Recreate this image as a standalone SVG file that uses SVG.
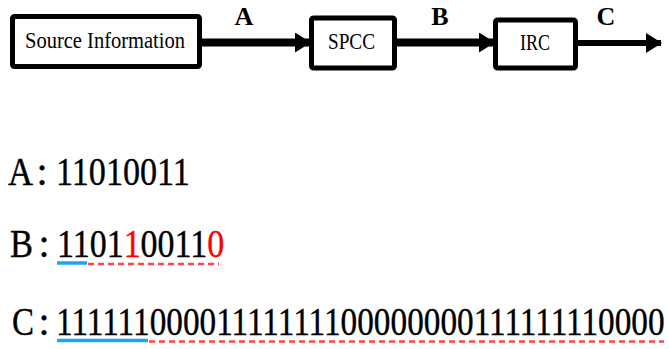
<svg xmlns="http://www.w3.org/2000/svg" width="669" height="349" viewBox="0 0 669 349">
  <style>
    .box { fill: #ffffff; stroke: #000000; stroke-width: 5; }
    .boxtxt { font-family: "Liberation Serif", "Times New Roman", serif; font-size: 24px; fill: #000000; }
    .lbl { font-family: "Liberation Serif", "Times New Roman", serif; font-size: 26px; font-weight: bold; fill: #000000; text-anchor: middle; }
    .seq { font-family: "Liberation Serif", "Times New Roman", serif; font-size: 40px; fill: #000000; stroke: #000000; stroke-width: 0.4; }
    .seq .red { fill: #ff0000; stroke: #ff0000; }
    .wire { stroke: #000000; fill: none; }
    .blue { stroke: #1ea5ef; stroke-width: 3.5; }
    .dash { stroke: #ff4545; stroke-width: 2.5; stroke-dasharray: 6 4; }
  </style>
  <defs>
    <marker id="head" viewBox="0 0 16 20" refX="15" refY="10" markerWidth="16" markerHeight="20" markerUnits="userSpaceOnUse" orient="auto">
      <path d="M0,0 L16,10 L0,20 Z" fill="#000000"/>
    </marker>
  </defs>

  <rect width="669" height="349" fill="#ffffff"/>

  <!-- connectors -->
  <g id="connectors">
    <line class="wire" x1="202" y1="42.5" x2="310" y2="42.5" stroke-width="8" marker-end="url(#head)"/>
    <line class="wire" x1="397" y1="42.5" x2="494" y2="42.5" stroke-width="8" marker-end="url(#head)"/>
    <line class="wire" x1="578" y1="43" x2="661" y2="43" stroke-width="6" marker-end="url(#head)"/>
    <text class="lbl" x="244" y="25">A</text>
    <text class="lbl" x="440" y="25">B</text>
    <text class="lbl" x="606" y="25">C</text>
  </g>

  <!-- blocks -->
  <g id="source">
    <rect class="box" x="12.5" y="16.5" width="187" height="50" rx="2"/>
    <text class="boxtxt" x="25" y="48" textLength="160" lengthAdjust="spacingAndGlyphs">Source Information</text>
  </g>
  <g id="spcc">
    <rect class="box" x="311.5" y="18" width="83" height="50" rx="2"/>
    <text class="boxtxt" x="328" y="49" textLength="47" lengthAdjust="spacingAndGlyphs">SPCC</text>
  </g>
  <g id="irc">
    <rect class="box" x="495.5" y="20" width="80" height="48" rx="2"/>
    <text class="boxtxt" x="520" y="50" textLength="30" lengthAdjust="spacingAndGlyphs">IRC</text>
  </g>

  <!-- bit sequences (digits condensed horizontally) -->
  <g id="seqA">
    <text class="seq" x="8" y="185" textLength="25" lengthAdjust="spacingAndGlyphs">A</text>
    <text class="seq" x="42" y="185" text-anchor="middle">:</text>
    <text class="seq" transform="translate(56,185) scale(0.853,1)">11010011</text>
  </g>
  <g id="seqB">
    <text class="seq" x="10" y="257" textLength="23" lengthAdjust="spacingAndGlyphs">B</text>
    <text class="seq" x="44" y="257" text-anchor="middle">:</text>
    <text class="seq" transform="translate(57,257) scale(0.849,1)">1101<tspan class="red">1</tspan>0011<tspan class="red">0</tspan></text>
    <line class="blue" x1="57" y1="263" x2="87" y2="263"/>
    <line class="dash" x1="88" y1="264" x2="219" y2="264"/>
  </g>
  <g id="seqC">
    <text class="seq" x="12" y="335" textLength="22" lengthAdjust="spacingAndGlyphs">C</text>
    <text class="seq" x="44" y="335" text-anchor="middle">:</text>
    <text class="seq" transform="translate(56,335) scale(0.832,1)">11111100001111111100000000111111110000</text>
    <line class="blue" x1="57" y1="340.5" x2="148" y2="340.5"/>
    <line class="dash" x1="149" y1="341.5" x2="664" y2="341.5"/>
  </g>
</svg>
